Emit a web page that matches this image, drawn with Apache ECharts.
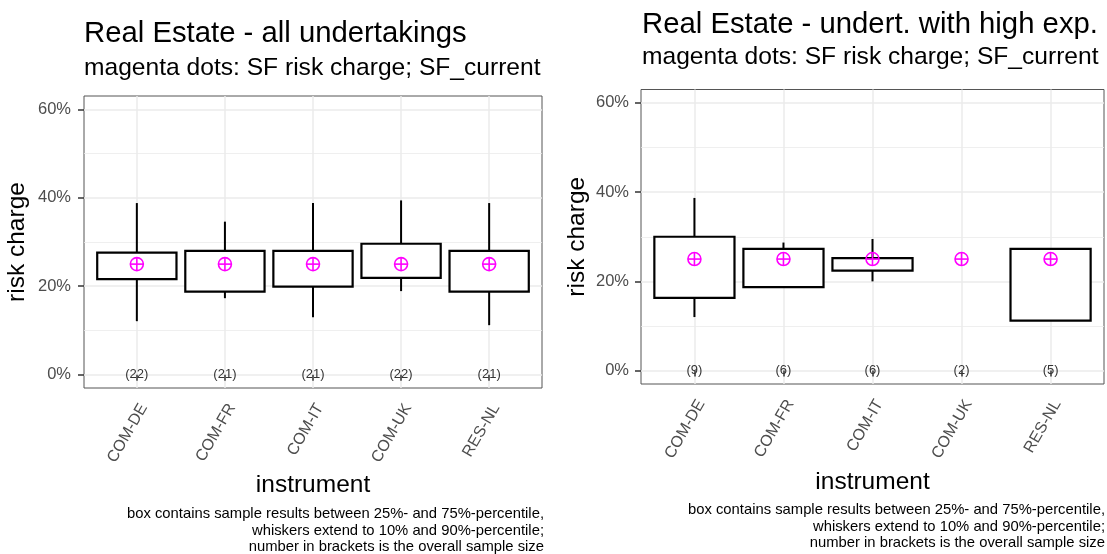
<!DOCTYPE html>
<html>
<head>
<meta charset="utf-8">
<script src="https://cdn.jsdelivr.net/npm/echarts@6/dist/echarts.min.js"></script>
<style>
  html, body { margin: 0; padding: 0; background: #fff; }
  #chart { width: 1107px; height: 554px; }
</style>
</head>
<body>
<div id="chart"></div>
<script>
// Instruments on the x axis (positions 1..5)
const categories = ['COM-DE', 'COM-FR', 'COM-IT', 'COM-UK', 'RES-NL'];
const yTicks = [0, 20, 40, 60];
const yMinorTicks = [10, 30, 50];

// Panel 1: all undertakings (percent)
const allP10 = [12.1, 17.3, 13.0, 18.9, 11.2];
const allP25 = [21.6, 18.8, 19.9, 21.9, 18.8];
const allP75 = [27.6, 28.0, 28.0, 29.6, 28.0];
const allP90 = [38.8, 34.6, 38.8, 39.4, 38.8];
const allSF  = [25, 25, 25, 25, 25];
const allN   = [22, 21, 21, 22, 21];

// Panel 2: undertakings with high exposure (percent); null = no box drawn
const highP10 = [12.0, 18.7, 20.0, null, 11.2];
const highP25 = [16.3, 18.7, 22.4, null, 11.2];
const highP75 = [30.0, 27.3, 25.2, null, 27.3];
const highP90 = [38.7, 28.7, 29.5, null, 27.3];
const highSF  = [25, 25, 25, 25, 25];
const highN   = [9, 6, 6, 2, 5];

const FONT = '"Liberation Sans", Arial, Helvetica, sans-serif';
const catPos = categories.map((c, i) => i + 1);

function boxData(p10, p25, p75, p90) {
  const out = [];
  categories.forEach((c, i) => {
    if (p25[i] != null && p75[i] != null) out.push([i + 1, p10[i], p25[i], p75[i], p90[i]]);
  });
  return out;
}

// Box from 25th to 75th percentile, whiskers to 10th and 90th
function renderBox(params, api) {
  const x = api.value(0);
  const halfW = api.size([0.9, 0])[0] / 2;
  const c10 = api.coord([x, api.value(1)]);
  const c25 = api.coord([x, api.value(2)]);
  const c75 = api.coord([x, api.value(3)]);
  const c90 = api.coord([x, api.value(4)]);
  const line = { stroke: '#000', lineWidth: 2 };
  return {
    type: 'group',
    children: [
      { type: 'line', shape: { x1: c90[0], y1: c90[1], x2: c75[0], y2: c75[1] }, style: line },
      { type: 'line', shape: { x1: c25[0], y1: c25[1], x2: c10[0], y2: c10[1] }, style: line },
      { type: 'rect', shape: { x: c75[0] - halfW, y: c75[1], width: 2 * halfW, height: c25[1] - c75[1] },
        style: { fill: '#fff', stroke: '#000', lineWidth: 2.2 } }
    ]
  };
}

// Standard-formula charge: circle with a plus
function renderSF(params, api) {
  const c = api.coord([api.value(0), api.value(1)]);
  const r = 6.5;
  const st = { stroke: '#FF00FF', lineWidth: 1.6, fill: null };
  return {
    type: 'group',
    children: [
      { type: 'circle', shape: { cx: c[0], cy: c[1], r: r }, style: { stroke: '#FF00FF', lineWidth: 1.6, fill: 'rgba(0,0,0,0)' } },
      { type: 'line', shape: { x1: c[0] - r, y1: c[1], x2: c[0] + r, y2: c[1] }, style: st },
      { type: 'line', shape: { x1: c[0], y1: c[1] - r, x2: c[0], y2: c[1] + r }, style: st }
    ]
  };
}

// Sample size in brackets at the 0% line
function renderCount(params, api) {
  const c = api.coord([api.value(0), 0]);
  return {
    type: 'text',
    style: { text: '(' + api.value(1) + ')', x: c[0], y: c[1], align: 'center', verticalAlign: 'middle',
             fontSize: 13, fontFamily: FONT, fill: '#333' }
  };
}

function xAxisFor(gridIndex, nameGap) {
  return {
    type: 'value', gridIndex, min: 0.4, max: 5.6,
    name: 'instrument', nameLocation: 'middle', nameGap,
    nameTextStyle: { fontSize: 24.5, color: '#000', fontFamily: FONT },
    axisLine: { show: false },
    axisTick: { show: true, length: 6, customValues: catPos, lineStyle: { color: '#333', width: 1.5 } },
    axisLabel: { customValues: catPos, formatter: v => categories[Math.round(v) - 1], rotate: 60,
                 verticalAlign: 'top', fontSize: 16, color: '#4D4D4D', fontFamily: FONT, margin: 13 },
    splitLine: { show: true, lineStyle: { color: '#EBEBEB', width: 1.5 } }
  };
}

function yAxisFor(gridIndex, nameGap, labelMargin) {
  return {
    type: 'value', gridIndex, min: -3, max: 63,
    name: 'risk charge', nameLocation: 'middle', nameGap, nameRotate: 90,
    nameTextStyle: { fontSize: 24.5, color: '#000', fontFamily: FONT },
    axisLine: { show: false },
    axisTick: { show: true, length: 6, customValues: yTicks, lineStyle: { color: '#333', width: 1.5 } },
    axisLabel: { customValues: yTicks, formatter: v => v + '%', fontSize: 16.5, color: '#4D4D4D',
                 fontFamily: FONT, margin: labelMargin },
    splitLine: { show: true, lineStyle: { color: '#EBEBEB', width: 1.5 } }
  };
}

function yMinorAxisFor(gridIndex) {
  return {
    type: 'value', gridIndex, min: -3, max: 63, position: 'left',
    axisLine: { show: false },
    axisTick: { show: false, customValues: yMinorTicks },
    axisLabel: { show: false, customValues: yMinorTicks },
    splitLine: { show: true, lineStyle: { color: '#EBEBEB', width: 0.8 } }
  };
}

function panelSeries(gi, p10, p25, p75, p90, sf, n) {
  return [
    { type: 'custom', xAxisIndex: gi, yAxisIndex: gi * 2, clip: false, z: 3,
      data: boxData(p10, p25, p75, p90), renderItem: renderBox },
    { type: 'custom', xAxisIndex: gi, yAxisIndex: gi * 2, clip: false, z: 4,
      data: sf.map((v, i) => [i + 1, v]), renderItem: renderSF },
    { type: 'custom', xAxisIndex: gi, yAxisIndex: gi * 2, clip: false, z: 4,
      data: n.map((v, i) => [i + 1, v]), renderItem: renderCount }
  ];
}

const footnote = 'box contains sample results between 25%- and 75%-percentile,\n' +
                 'whiskers extend to 10% and 90%-percentile;\n' +
                 'number in brackets is the overall sample size';

const chart = echarts.init(document.getElementById('chart'), null, { renderer: 'canvas' });
chart.setOption({
  animation: false,
  backgroundColor: '#fff',
  textStyle: { fontFamily: FONT },
  title: [
    { text: 'Real Estate - all undertakings', left: 84, top: 19, padding: 0,
      textStyle: { fontSize: 29.3, fontWeight: 'normal', color: '#000', fontFamily: FONT } },
    { text: 'magenta dots: SF risk charge; SF_current', left: 84, top: 56, padding: 0,
      textStyle: { fontSize: 24.6, fontWeight: 'normal', color: '#000', fontFamily: FONT } },
    { text: 'Real Estate - undert. with high exp.', left: 642, top: 10, padding: 0,
      textStyle: { fontSize: 29.3, fontWeight: 'normal', color: '#000', fontFamily: FONT } },
    { text: 'magenta dots: SF risk charge; SF_current', left: 642, top: 44.5, padding: 0,
      textStyle: { fontSize: 24.6, fontWeight: 'normal', color: '#000', fontFamily: FONT } }
  ],
  grid: [
    { left: 84, top: 96, width: 458, height: 292, show: true, borderColor: '#555', borderWidth: 1, backgroundColor: '#fff' },
    { left: 641, top: 89.5, width: 463, height: 294.5, show: true, borderColor: '#555', borderWidth: 1, backgroundColor: '#fff' }
  ],
  xAxis: [xAxisFor(0, 83), xAxisFor(1, 86)],
  yAxis: [yAxisFor(0, 54, 13), yMinorAxisFor(0), yAxisFor(1, 51, 12), yMinorAxisFor(1)],
  graphic: [
    { type: 'text', z: 10, style: { text: footnote, x: 544, y: 506, align: 'right', verticalAlign: 'top',
      fontSize: 14.8, lineHeight: 16.5, fontFamily: FONT, fill: '#000' } },
    { type: 'text', z: 10, style: { text: footnote, x: 1105, y: 502, align: 'right', verticalAlign: 'top',
      fontSize: 14.8, lineHeight: 16.5, fontFamily: FONT, fill: '#000' } }
  ],
  series: [
    ...panelSeries(0, allP10, allP25, allP75, allP90, allSF, allN),
    ...panelSeries(1, highP10, highP25, highP75, highP90, highSF, highN)
  ]
});
</script>
</body>
</html>
